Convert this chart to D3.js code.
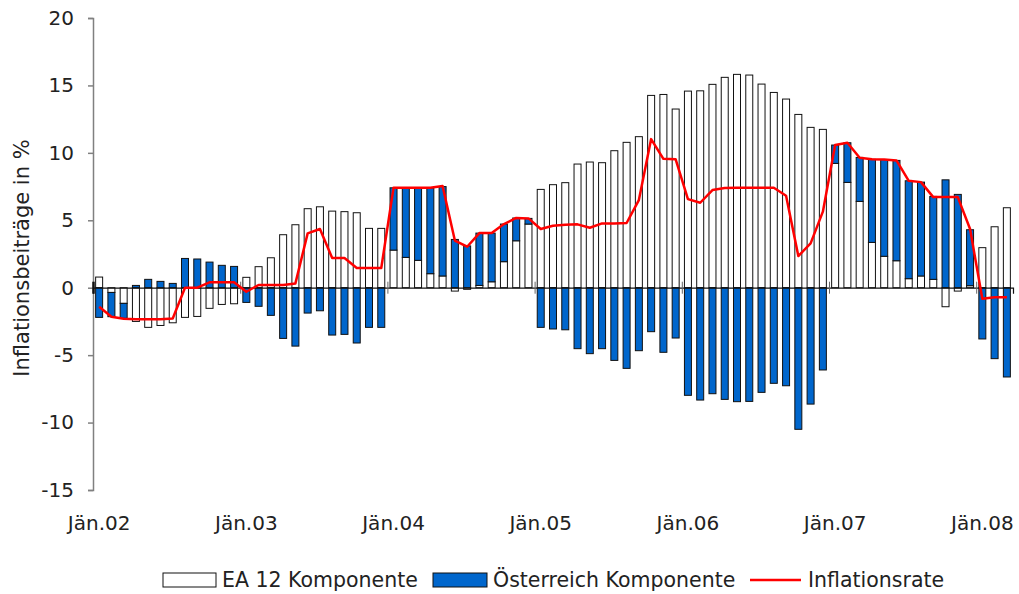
<!DOCTYPE html>
<html>
<head>
<meta charset="utf-8">
<script src="https://cdn.jsdelivr.net/npm/d3@7"></script>
<style>
  body { margin: 0; background: #fff; }
  text { font-family: "DejaVu Sans", sans-serif; fill: #222; }
</style>
</head>
<body>
<div id="chart"></div>
<script>
// month categories, Jän.02 .. Mär.08
const monthNames = ["Jän", "Feb", "Mär", "Apr", "Mai", "Jun", "Jul", "Aug", "Sep", "Okt", "Nov", "Dez"];
const years = ["02", "03", "04", "05", "06", "07", "08"];
const categories = years.flatMap(yr => monthNames.map(m => m + "." + yr)).slice(0, 75);

// EA 12 Komponente (white bars)
const eaValues = [
  0.79, -0.35, -1.16, -2.5, -2.94, -2.8, -2.6, -2.2, -2.13, -1.53, -1.24, -1.19,
  0.77, 1.56, 2.22, 3.93, 4.67, 5.86, 6.0, 5.68, 5.64, 5.56, 4.4, 4.4,
  2.79, 2.25, 2.03, 1.04, 0.87, -0.25, -0.12, 0.17, 0.44, 1.93, 3.48, 4.72,
  7.29, 7.64, 7.79, 9.17, 9.32, 9.27, 10.16, 10.78, 11.2, 14.26, 14.33, 13.25,
  14.58, 14.6, 15.08, 15.6, 15.82, 15.77, 15.1, 14.48, 13.99, 12.85, 11.89, 11.74,
  9.22, 7.81, 6.4, 3.36, 2.33, 2.0, 0.67, 0.87, 0.62, -1.41, -0.25, 0.15,
  2.97, 4.52, 5.93
];

// Österreich Komponente (blue bars)
const atValues = [
  -2.2, -1.8, -1.11, 0.17, 0.62, 0.47, 0.32, 2.17, 2.13, 1.9, 1.66, 1.58,
  -1.09, -1.38, -2.05, -3.76, -4.33, -1.88, -1.71, -3.51, -3.46, -4.1, -2.94, -2.94,
  4.62, 5.16, 5.37, 6.36, 6.63, 3.58, 3.1, 3.88, 3.61, 2.79, 1.69, 0.42,
  -2.94, -3.06, -3.12, -4.52, -4.89, -4.52, -5.39, -5.98, -4.67, -3.26, -4.79, -3.73,
  -7.98, -8.33, -7.86, -8.28, -8.45, -8.43, -7.76, -7.09, -7.27, -10.5, -8.63, -6.1,
  1.36, 2.94, 3.26, 6.16, 7.17, 7.44, 7.26, 6.96, 6.15, 8.0, 6.92, 4.15,
  -3.8, -5.26, -6.62
];

// Inflationsrate (red line)
const inflation = [
  -1.41, -2.15, -2.3, -2.33, -2.33, -2.33, -2.28, 0.0, 0.0, 0.4, 0.4, 0.4,
  -0.3, 0.2, 0.2, 0.2, 0.32, 4.03, 4.35, 2.2, 2.2, 1.46, 1.46, 1.46,
  7.41, 7.41, 7.41, 7.41, 7.54, 3.5, 3.04, 4.05, 4.05, 4.72, 5.17, 5.14,
  4.35, 4.6, 4.67, 4.7, 4.45, 4.77, 4.77, 4.8, 6.5, 11.02, 9.56, 9.52,
  6.57, 6.3, 7.24, 7.39, 7.41, 7.41, 7.41, 7.41, 6.82, 2.35, 3.29, 5.64,
  10.58, 10.75, 9.64, 9.52, 9.5, 9.44, 7.93, 7.83, 6.72, 6.72, 6.72, 4.35,
  -0.82, -0.7, -0.7
];

const yTicks = [-15, -10, -5, 0, 5, 10, 15, 20];
const labelMonths = [0, 12, 24, 36, 48, 60, 72];

const width = 1019, height = 594;
const plotLeft = 93, plotRight = 1013, plotTop = 18, plotBottom = 490;

const svg = d3.select("#chart").append("svg")
    .attr("width", width)
    .attr("height", height);

svg.append("rect").attr("width", width).attr("height", height).attr("fill", "#fff");

const x = d3.scaleBand()
    .domain(d3.range(categories.length))
    .range([plotLeft, plotRight])
    .paddingInner(0.43)
    .paddingOuter(0.215);

// boundaries between months (for the tick marks on the zero line)
const xEdge = d3.scaleLinear()
    .domain([0, categories.length])
    .range([plotLeft, plotRight]);

const y = d3.scaleLinear()
    .domain([-15, 20])
    .range([plotBottom, plotTop]);

// stacked data, positives up and negatives down
const rows = categories.map((c, i) => ({ month: c, ea: eaValues[i], at: atValues[i] }));
const series = d3.stack()
    .keys(["ea", "at"])
    .offset(d3.stackOffsetDiverging)(rows);

const colors = { ea: "#ffffff", at: "#0066cc" };

series.forEach(s => {
    svg.append("g")
        .attr("class", "bars-" + s.key)
        .selectAll("rect")
        .data(s)
        .enter()
        .append("rect")
        .attr("x", (d, i) => x(i))
        .attr("width", x.bandwidth())
        .attr("y", d => y(Math.max(d[0], d[1])))
        .attr("height", d => Math.abs(y(d[0]) - y(d[1])))
        .attr("fill", colors[s.key])
        .attr("stroke", "#111")
        .attr("stroke-width", 1);
});

// y axis (plain hyphen for negatives, like the original)
const yAxis = svg.append("g")
    .attr("transform", `translate(${plotLeft},0)`)
    .call(d3.axisLeft(y).tickValues(yTicks).tickSize(5).tickPadding(14)
        .tickFormat(d => String(d)));
yAxis.select(".domain").attr("stroke", "#808080").attr("stroke-width", 1.5);
yAxis.selectAll(".tick line").attr("stroke", "#808080").attr("stroke-width", 1.5);
yAxis.selectAll("text")
    .style("font-size", "20px")
    .style("fill", "#222");

// zero line with crossing ticks at year boundaries
const zeroAxis = svg.append("g")
    .attr("transform", `translate(0,${y(0)})`)
    .call(d3.axisBottom(xEdge).tickValues(labelMonths).tickSize(6).tickFormat(""));
zeroAxis.select(".domain").attr("stroke", "#111").attr("stroke-width", 1.2);
zeroAxis.selectAll(".tick line")
    .attr("y1", -6)
    .attr("stroke", (d, i) => i === 0 ? "#111" : "#666")
    .attr("stroke-width", (d, i) => i === 0 ? 2.5 : 1);

// month labels under the plot
const xAxis = svg.append("g")
    .attr("transform", `translate(0,${plotBottom})`)
    .call(d3.axisBottom(x).tickValues(labelMonths).tickSize(0).tickPadding(26)
        .tickFormat(i => categories[i]));
xAxis.select(".domain").remove();
xAxis.selectAll("text")
    .style("font-size", "20px")
    .style("fill", "#222");

// inflation line
const line = d3.line()
    .x((d, i) => x(i) + x.bandwidth() / 2)
    .y(d => y(d));

svg.append("path")
    .datum(inflation)
    .attr("fill", "none")
    .attr("stroke", "#ff0000")
    .attr("stroke-width", 2.5)
    .attr("stroke-linejoin", "round")
    .attr("d", line);

// y axis title
svg.append("text")
    .attr("transform", "translate(29,258) rotate(-90)")
    .attr("text-anchor", "middle")
    .style("font-size", "21px")
    .text("Inflationsbeiträge in %");

// legend
const legend = svg.append("g").attr("class", "legend");

legend.append("rect")
    .attr("x", 163).attr("y", 573).attr("width", 53).attr("height", 14)
    .attr("fill", "#fff").attr("stroke", "#111");
legend.append("text").attr("x", 222).attr("y", 587)
    .style("font-size", "20.5px").text("EA 12 Komponente");

legend.append("rect")
    .attr("x", 433).attr("y", 573).attr("width", 54).attr("height", 14)
    .attr("fill", "#0066cc").attr("stroke", "#111");
legend.append("text").attr("x", 493).attr("y", 587)
    .style("font-size", "20.5px").text("Österreich Komponente");

legend.append("line")
    .attr("x1", 750).attr("x2", 801).attr("y1", 580).attr("y2", 580)
    .attr("stroke", "#ff0000").attr("stroke-width", 2.5);
legend.append("text").attr("x", 808).attr("y", 587)
    .style("font-size", "20.5px").text("Inflationsrate");
</script>
</body>
</html>
